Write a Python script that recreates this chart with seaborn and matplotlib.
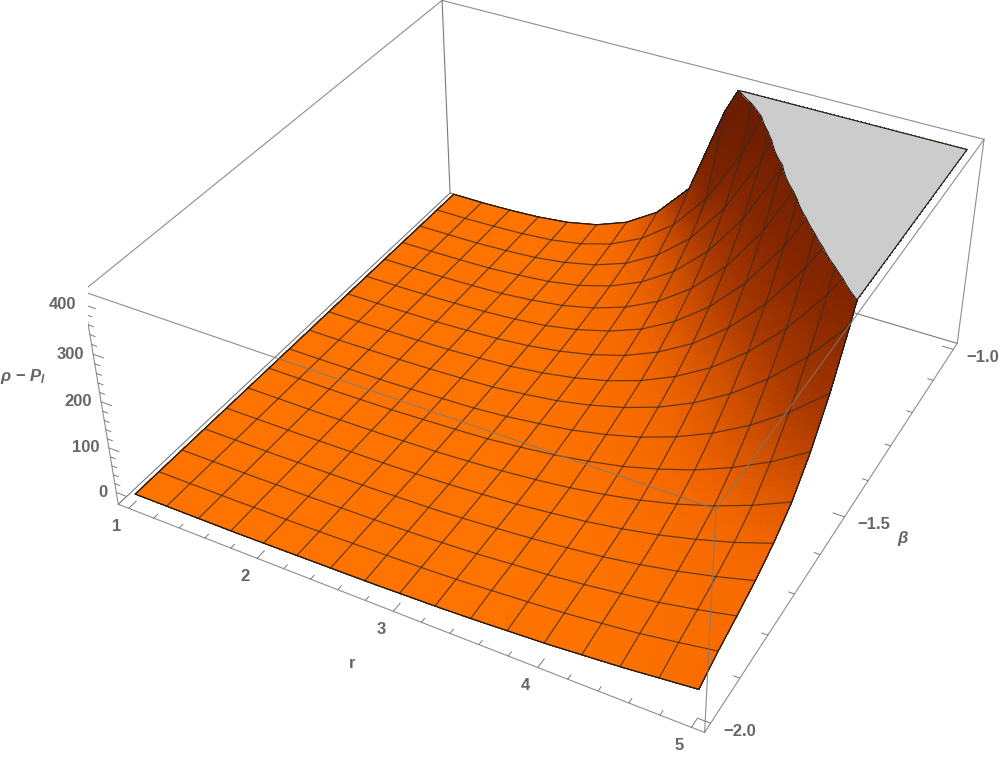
import numpy as np, matplotlib
matplotlib.use('Agg')
import matplotlib.pyplot as plt
import seaborn as sns
from mpl_toolkits.mplot3d import proj3d

r_nodes = [1.0, 1.25, 1.5, 1.75, 2.0, 2.25, 2.5, 2.75, 3.0, 3.25, 3.5, 3.75, 4.0, 4.25, 4.5, 4.75, 5.0]
beta_nodes = [-2.0, -1.9375, -1.875, -1.8125, -1.75, -1.6875, -1.625, -1.5625, -1.5,
              -1.4375, -1.375, -1.3125, -1.25, -1.1875, -1.125, -1.0625, -1.0]
# one row per beta, read off the mesh crossings; anything over the clip level is a rough guess
rho_minus_p = np.array([
    [-11, -11, -11, -11, -10, -9, -8, -7, -5, -3, 0, 4, 8, 14, 20, 28, 36],
    [-11, -11, -11, -10, -10, -9, -7, -5, -3, 0, 5, 10, 16, 24, 33, 45, 58],
    [-11, -11, -11, -10, -10, -8, -7, -5, -2, 2, 8, 14, 22, 32, 43, 58, 75],
    [-11, -11, -11, -10, -9, -8, -6, -4, 0, 5, 11, 19, 28, 40, 55, 73, 94],
    [-11, -11, -11, -10, -9, -8, -6, -3, 2, 7, 15, 24, 36, 51, 70, 92, 119],
    [-11, -11, -11, -10, -9, -7, -5, -1, 4, 11, 20, 32, 47, 66, 90, 119, 154],
    [-11, -11, -11, -10, -9, -6, -3, 1, 8, 17, 29, 44, 65, 90, 122, 161, 209],
    [-11, -11, -10, -10, -8, -5, -2, 4, 13, 24, 40, 60, 87, 121, 164, 217, 282],
    [-11, -11, -10, -9, -7, -4, 0, 8, 18, 33, 53, 79, 114, 159, 216, 287, 375],
    [-11, -11, -10, -9, -7, -3, 2, 11, 24, 42, 67, 101, 145, 203, 277, 370, 486],
    [-11, -11, -10, -9, -6, -2, 5, 16, 32, 54, 86, 129, 187, 262, 359, 482, 636],
    [-11, -11, -10, -8, -5, 0, 8, 22, 42, 70, 111, 167, 242, 341, 469, 634, 841],
    [-11, -11, -10, -8, -5, 2, 12, 29, 54, 90, 142, 214, 312, 442, 612, 832, 1111],
    [-11, -11, -10, -8, -3, 4, 17, 38, 70, 117, 184, 278, 407, 580, 808, 1104, 1483],
    [-11, -11, -10, -7, -2, 8, 24, 50, 91, 151, 240, 364, 536, 768, 1077, 1480, 1500],
    [-11, -11, -9, -6, 0, 12, 33, 68, 121, 202, 321, 491, 727, 1049, 1480, 1500, 1500],
    [-11, -11, -9, -5, 3, 18, 45, 90, 166, 358, 496, 659, 982, 1427, 1500, 1500, 1500],
], dtype=float)

r_major = [1, 2, 3, 4, 5]
beta_major = [-2.0, -1.5, -1.0]
beta_labels = ['\u22122.0', '\u22121.5', '\u22121.0']
z_major = [0, 100, 200, 300, 400]

sns.set_theme(style="white")
plt.rcParams['font.family'] = ['Liberation Sans', 'DejaVu Sans']
plt.rcParams['mathtext.fontset'] = 'custom'
plt.rcParams['mathtext.it'] = 'Liberation Sans:italic:bold'
plt.rcParams['mathtext.rm'] = 'Liberation Sans:bold'

xl = (0.917, 5.083)
yl = (-2.02, -0.98)
zl = (-27, 427)
CLIP = 411
GREY = '#666666'

fig = plt.figure(figsize=(10, 7.59), dpi=100)
ax = fig.add_axes([87.5/1000, -29.6/759, 913.4/1000, 913.4/759], projection='3d', computed_zorder=False)

# colour from the steepness at the nodes
dz_b, dz_r = np.gradient(rho_minus_p, beta_nodes, r_nodes)
sx = dz_r*(xl[1]-xl[0])/(zl[1]-zl[0])*0.404
sy = dz_b*(yl[1]-yl[0])/(zl[1]-zl[0])*0.404
shade = 1 - 1/np.sqrt(1 + sx**2 + sy**2)

# each mesh cell is split up so the colour can run smoothly across it
k = 8
r_f = np.linspace(1, 5, 16*k+1)
b_f = np.linspace(-2, -1, 16*k+1)
def refine(tab):
    a = np.array([np.interp(r_f, r_nodes, row) for row in tab])
    return np.array([np.interp(b_f, beta_nodes, col) for col in a.T]).T
Z = refine(rho_minus_p)
S = refine(shade)
X, Y = np.meshgrid(r_f, b_f)
cmap = sns.blend_palette(['#ff7300', '#f06400', '#d05000', '#a83800', '#882800', '#6e1e00'], as_cmap=True)
cols = cmap(np.clip(S/0.68, 0, 1))
Zc = np.minimum(Z, CLIP)
ax.plot_surface(X, Y, Zc, facecolors=cols, rstride=1, cstride=1, shade=False,
                linewidth=0.25, antialiased=False, zorder=2)
# flat top where the surface is cut off
ax.contourf(X, Y, Z, levels=[CLIP, 2000], zdir='z', offset=CLIP, colors=['#cccccc'], zorder=4)

def box_line(a, b, **kw):
    ax.plot(*zip(a, b), color='#7a7a7a', lw=0.8, **kw)

x0, x1 = xl
y0, y1 = yl
z0, z1 = zl
# box edges behind the surface
for a, b in [((x0, y0, z0), (x0, y1, z0)), ((x0, y1, z0), (x1, y1, z0)), ((x0, y1, z0), (x0, y1, z1))]:
    box_line(a, b, zorder=1)
# box edges in front of it
for a, b in [((x0, y0, z0), (x1, y0, z0)), ((x1, y0, z0), (x1, y1, z0)), ((x0, y0, z0), (x0, y0, z1)),
             ((x1, y0, z0), (x1, y0, z1)), ((x1, y1, z0), (x1, y1, z1)), ((x0, y0, z1), (x1, y0, z1)),
             ((x1, y0, z1), (x1, y1, z1)), ((x1, y1, z1), (x0, y1, z1)), ((x0, y1, z1), (x0, y0, z1))]:
    box_line(a, b, zorder=6, alpha=0.85)

# mesh lines, the grey top hides what is past the cut
for i in range(17):
    ax.plot(r_f, b_f[i*k]*np.ones_like(r_f), Zc[i*k], color='#3a2a20', lw=0.9, alpha=0.75, zorder=3)
    ax.plot(r_f[i*k]*np.ones_like(b_f), b_f, Zc[:, i*k], color='#3a2a20', lw=0.9, alpha=0.75, zorder=3)
# outline
ax.plot(r_f, b_f[0]*np.ones_like(r_f), Zc[0], color='k', lw=0.8, zorder=5)
ax.plot(r_f, b_f[-1]*np.ones_like(r_f), Zc[-1], color='k', lw=0.8, zorder=5)
ax.plot(r_f[0]*np.ones_like(b_f), b_f, Zc[:, 0], color='k', lw=0.8, zorder=5)
ax.plot(r_f[-1]*np.ones_like(b_f), b_f, Zc[:, -1], color='k', lw=0.8, zorder=5)
ax.contour(X, Y, Z, levels=[CLIP], colors='k', linewidths=0.8, zorder=5)

ax.set_xlim(*xl)
ax.set_ylim(*yl)
ax.set_zlim(*zl)
ax.view_init(elev=36.248, azim=-61.315, roll=0.387)
ax.set_proj_type('persp', focal_length=0.43333)
ax.set_box_aspect((1, 1.0019, 0.40407))
ax.set_axis_off()

def tick(p, d, minor):
    f = 0.5 if minor else 1.0
    q = [p[i] + d[i]*f for i in range(3)]
    ax.plot(*zip(p, q), color='#7a7a7a', lw=0.7, zorder=6)

def label(p, s, dx, dy, ha):
    x, y, _ = proj3d.proj_transform(p[0], p[1], p[2], ax.get_proj())
    ax.annotate(s, xy=(x, y), xytext=(dx, dy), textcoords='offset pixels', ha=ha, va='center',
                color=GREY, fontsize=12, fontweight='bold', annotation_clip=False)

for v in np.arange(1, 5.01, 0.2):
    tick((v, y0, z0), (0, 0.02, 0), abs(v-round(v)) > 1e-6)
for v in np.arange(-2, -0.99, 0.1):
    tick((x1, v, z0), (-0.08, 0, 0), abs(v*2-round(v*2)) > 1e-6)
for v in np.arange(0, 401, 20):
    tick((x0, y0, v), (0.08, 0, 0), v % 100 != 0)
for v in r_major:
    label((v, y0, z0), str(v), -12, -18, 'center')
for v, s in zip(beta_major, beta_labels):
    label((x1, v, z0), s, 13, -8, 'left')
for v in z_major:
    label((x0, y0, v), str(v), -9, 0, 'right')

fig.text(352/1000, 1-663/759, 'r', color=GREY, fontsize=12, fontweight='bold', ha='center', va='center')
fig.text(903/1000, 1-539/759, r'$\beta$', color=GREY, fontsize=12, ha='center', va='center')
fig.text(23/1000, 1-377/759, '$\\rho$ \u2212 $P_l$', color=GREY, fontsize=12, fontweight='bold', ha='center', va='center')
fig.savefig('out.png', dpi=100)
